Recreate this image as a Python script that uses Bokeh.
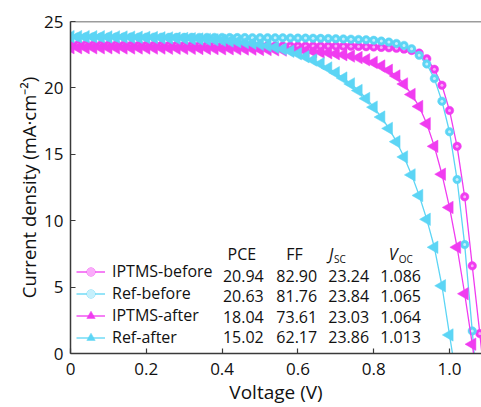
from bokeh.plotting import figure
from bokeh.models import Range1d, FixedTicker, Legend, LegendItem, Label, Span
from bokeh.embed import file_html
from bokeh.resources import INLINE

# ---------------- data ----------------
v_iptms_before = [0.00,0.02,0.04,0.06,0.08,0.10,0.12,0.14,0.16,0.18,0.20,0.22,0.24,0.26,0.28,0.30,
                  0.32,0.34,0.36,0.38,0.40,0.42,0.44,0.46,0.48,0.50,0.52,0.54,0.56,0.58,0.60,0.62,
                  0.64,0.66,0.68,0.70,0.72,0.74,0.76,0.78,0.80,0.82,0.84,0.86,0.88,0.90,0.92,0.94,
                  0.96,0.98,1.00,1.02,1.04,1.06,1.08,1.10]
j_iptms_before = [23.24,23.24,23.24,23.23,23.23,23.23,23.23,23.22,23.22,23.22,23.22,23.22,23.21,23.21,23.21,23.21,
                  23.20,23.20,23.20,23.19,23.19,23.19,23.18,23.18,23.17,23.17,23.17,23.16,23.16,23.16,23.15,23.15,
                  23.15,23.15,23.15,23.15,23.14,23.13,23.12,23.10,23.08,23.05,23.02,22.98,22.92,22.82,22.62,22.20,
                  21.40,20.20,18.30,15.60,11.80,6.60,1.50,-4.00]

v_ref_before = [0.00,0.02,0.04,0.06,0.08,0.10,0.12,0.14,0.16,0.18,0.20,0.22,0.24,0.26,0.28,0.30,
                0.32,0.34,0.36,0.38,0.40,0.42,0.44,0.46,0.48,0.50,0.52,0.54,0.56,0.58,0.60,0.62,
                0.64,0.66,0.68,0.70,0.72,0.74,0.76,0.78,0.80,0.82,0.84,0.86,0.88,0.90,0.92,0.94,
                0.96,0.98,1.00,1.02,1.04,1.06,1.08]
j_ref_before = [23.84,23.84,23.84,23.84,23.83,23.83,23.83,23.83,23.83,23.82,23.82,23.82,23.82,23.81,23.81,23.81,
                23.81,23.80,23.80,23.80,23.80,23.79,23.79,23.79,23.78,23.78,23.78,23.77,23.77,23.76,23.75,23.75,
                23.74,23.73,23.72,23.70,23.69,23.67,23.65,23.62,23.58,23.53,23.45,23.35,23.20,22.95,22.45,21.80,
                20.70,19.00,16.70,13.10,8.20,1.70,-5.00]

v_iptms_after = [0.00,0.02,0.04,0.06,0.08,0.10,0.12,0.14,0.16,0.18,0.20,0.22,0.24,0.26,0.28,0.30,
                 0.32,0.34,0.36,0.38,0.40,0.42,0.44,0.46,0.48,0.50,0.52,0.54,0.56,0.58,0.60,0.62,
                 0.64,0.66,0.68,0.70,0.72,0.74,0.76,0.78,0.80,0.82,0.84,0.86,0.88,0.90,0.92,0.94,
                 0.96,0.98,1.00,1.02,1.04,1.06,1.08]
j_iptms_after = [23.03,23.03,23.03,23.02,23.02,23.02,23.02,23.01,23.01,23.01,23.00,23.00,23.00,22.99,22.99,22.98,
                 22.98,22.97,22.97,22.96,22.95,22.95,22.94,22.93,22.92,22.90,22.89,22.87,22.85,22.83,22.80,22.78,
                 22.75,22.70,22.65,22.58,22.50,22.40,22.28,22.12,21.92,21.65,21.32,20.90,20.30,19.50,18.60,17.30,
                 15.60,13.50,11.00,8.00,4.50,0.70,-3.50]

v_ref_after = [0.00,0.02,0.04,0.06,0.08,0.10,0.12,0.14,0.16,0.18,0.20,0.22,0.24,0.26,0.28,0.30,
               0.32,0.34,0.36,0.38,0.40,0.42,0.44,0.46,0.48,0.50,0.52,0.54,0.56,0.58,0.60,0.62,
               0.64,0.66,0.68,0.70,0.72,0.74,0.76,0.78,0.80,0.82,0.84,0.86,0.88,0.90,0.92,0.94,
               0.96,0.98,1.00,1.02]
j_ref_after = [23.86,23.86,23.86,23.85,23.85,23.84,23.84,23.83,23.82,23.81,23.80,23.79,23.77,23.76,23.74,23.72,
               23.70,23.68,23.65,23.62,23.58,23.53,23.48,23.42,23.36,23.28,23.18,23.06,22.92,22.76,22.57,22.35,
               22.10,21.82,21.50,21.14,20.74,20.30,19.80,19.20,18.55,17.80,16.95,15.95,14.80,13.45,11.90,10.10,
               8.00,5.10,1.40,-2.20]

series_names = ["IPTMS-before", "Ref-before", "IPTMS-after", "Ref-after"]
pce = ["20.94", "20.63", "18.04", "15.02"]
ff = ["82.90", "81.76", "73.61", "62.17"]
jsc = ["23.24", "23.84", "23.03", "23.86"]
voc = ["1.086", "1.065", "1.064", "1.013"]

x_ticks = [0, 0.2, 0.4, 0.6, 0.8, 1.0]
x_tick_labels = ["0", "0.2", "0.4", "0.6", "0.8", "1.0"]
y_ticks = [0, 5, 10, 15, 20, 25]
x_max = 1.0844
y_max = 25

# ---------------- styles ----------------
MAG = "#F03CF0"
CYA = "#5CD5F5"
MAG_HI = "#FBB8FB"
CYA_HI = "#D2F3FD"
AXC = "#3a3a3a"
TXT = "#111111"
FONT = "Open Sans"

p = figure(width=481, height=407, output_backend="svg", toolbar_location=None,
           x_range=Range1d(0, x_max), y_range=Range1d(0, y_max),
           min_border_left=70, min_border_right=0, min_border_top=21, min_border_bottom=54,
           outline_line_color=None, background_fill_color="white", border_fill_color="white")
p.grid.visible = False

for ax in (p.xaxis[0], p.yaxis[0]):
    ax.major_tick_in = 5
    ax.major_tick_out = 0
    ax.minor_tick_line_color = None
    ax.axis_line_color = AXC
    ax.axis_line_width = 1.5
    ax.major_tick_line_color = AXC
    ax.major_tick_line_width = 1.2
    ax.major_label_text_font = FONT
    ax.major_label_text_font_size = "17px"
    ax.major_label_text_color = TXT
    ax.axis_label_text_font = FONT
    ax.axis_label_text_font_style = "normal"
    ax.axis_label_text_color = TXT

p.xaxis.ticker = FixedTicker(ticks=x_ticks)
p.xaxis.major_label_overrides = {t: s for t, s in zip(x_ticks, x_tick_labels)}
p.yaxis.ticker = FixedTicker(ticks=y_ticks)
p.xaxis.axis_label = "Voltage (V)"
p.yaxis.axis_label = "Current density (mA·cm⁻²)"
p.xaxis.axis_label_text_font_size = "19px"
p.yaxis.axis_label_text_font_size = "18.5px"
p.xaxis.major_label_standoff = 9
p.xaxis.axis_label_standoff = 1
p.yaxis.major_label_standoff = 7
p.yaxis.axis_label_standoff = 0

# top frame line
p.add_layout(Span(location=y_max, dimension="width", line_color=AXC, line_width=1.5))

items = []
specs = [
    (v_iptms_before, j_iptms_before, MAG, MAG_HI, "circle"),
    (v_ref_before, j_ref_before, CYA, CYA_HI, "circle"),
    (v_iptms_after, j_iptms_after, MAG, MAG_HI, "triangle"),
    (v_ref_after, j_ref_after, CYA, CYA_HI, "triangle"),
]
for name, (vx, jy, col, hi, mk) in zip(series_names, specs):
    ln = p.line(vx, jy, line_color=col, line_width=1.3)
    if mk == "circle":
        sc = p.scatter(vx, jy, marker="circle", size=8.5, fill_color=col, line_color=col, line_width=0.5)
        hl = p.scatter(vx, jy, marker="circle", size=3, fill_color=hi, fill_alpha=0.9, line_color=None)
        items.append(LegendItem(label=name, renderers=[ln, sc, hl]))
    else:
        sc = p.scatter(vx, jy, marker="triangle", size=12.5, angle=1.5708, fill_color=col,
                       line_color=col, line_width=0.5)
        items.append(LegendItem(label=name, renderers=[ln, sc]))

legend = Legend(items=items, location=(6, 5), padding=0, margin=0, spacing=0,
                glyph_width=29, glyph_height=21, label_height=21, label_standoff=7,
                label_text_font=FONT, label_text_font_size="16px", label_text_color=TXT,
                border_line_color=None, background_fill_alpha=0)
p.add_layout(legend, "center")

# ---------- table texts (data coordinates) ----------
row_y = [5.85, 4.30, 2.78, 1.22]
head_y = 7.50
col_x = [0.456, 0.597, 0.734, 0.871]
cols = [pce, ff, jsc, voc]
for cx, vals in zip(col_x, cols):
    for ry, s in zip(row_y, vals):
        p.add_layout(Label(x=cx, y=ry, text=s, text_align="center", text_baseline="middle",
                           text_font=FONT, text_font_size="16px", text_color=TXT))

def hdr(x, text, size, style="normal", dy=0.0, align="left"):
    p.add_layout(Label(x=x, y=head_y + dy, text=text, text_align=align, text_baseline="middle",
                       text_font=FONT, text_font_size=size, text_font_style=style, text_color=TXT))

hdr(0.452, "PCE", "16px", align="center")
hdr(0.591, "FF", "16px", align="center")
hdr(0.682, "J", "16px", style="italic")
hdr(0.695, "SC", "10px", dy=-0.35)
hdr(0.840, "V", "16px", style="italic")
hdr(0.866, "OC", "10px", dy=-0.35)

open("out.html", "w").write(file_html(p, INLINE))
